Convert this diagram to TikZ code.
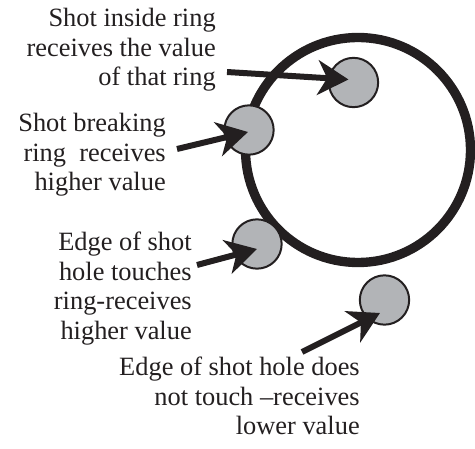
\documentclass[tikz,border=0pt]{standalone}
\usepackage{fontspec}
\setmainfont{Liberation Serif}[Ligatures=TeX]
\usetikzlibrary{arrows.meta}
\definecolor{shotgray}{RGB}{178,180,183}
\definecolor{inkblack}{RGB}{35,31,32}

\begin{document}
\begin{tikzpicture}[x=0.75pt,y=-0.75pt,
  shot/.style={circle, draw=inkblack, line width=1.5pt, fill=shotgray, minimum size=37pt, inner sep=0pt},
  pointer/.style={inkblack, line width=4.5pt, -{Stealth[length=23pt,width=26pt,inset=7pt]}},
  caption/.style={anchor=north east, align=right, inner sep=0pt, text=inkblack,
    font=\rmfamily\fontsize{19.8}{22.1}\selectfont}]
  \useasboundingbox (0,0) rectangle (475,449);

  % Target ring
  \coordinate (C) at (358,150);
  \draw[inkblack, line width=7pt] (C) circle (112.5);

  % Shot holes
  \node[shot] (inside)   at (353.5,82.5) {};
  \node[shot] (breaking) at (249,130)    {};
  \node[shot] (touching) at (257,244)    {};
  \node[shot] (outside)  at (384.5,300)  {};

  % Labels
  \node[caption] (lblInside)   at (216,8)   {Shot inside ring\\receives the value\\of that ring};
  \node[caption] (lblBreaking) at (166,113) {Shot breaking\\ring\ \ receives\\higher value};
  \node[caption] (lblTouching) at (192,232) {Edge of shot\\hole touches\\ring-receives\\higher value};
  \node[caption] (lblOutside)  at (360,357) {Edge of shot hole does\\not touch –receives\\lower value};

  % Arrow tails next to the labels
  \coordinate (fromInside)   at (227,72);
  \coordinate (fromBreaking) at (177,149);
  \coordinate (fromTouching) at (197,265);
  \coordinate (fromOutside)  at (302,352);

  % Arrows
  \draw[pointer] (fromInside)   -- ([shift={(-5,-3)}]inside.center);
  \draw[pointer] (fromBreaking) -- ([shift={(-1,2)}]breaking.center);
  \draw[pointer] (fromTouching) -- ([shift={(0,5)}]touching.center);
  \draw[pointer] (fromOutside)  -- ([shift={(-4.5,13)}]outside.center);
\end{tikzpicture}
\end{document}
